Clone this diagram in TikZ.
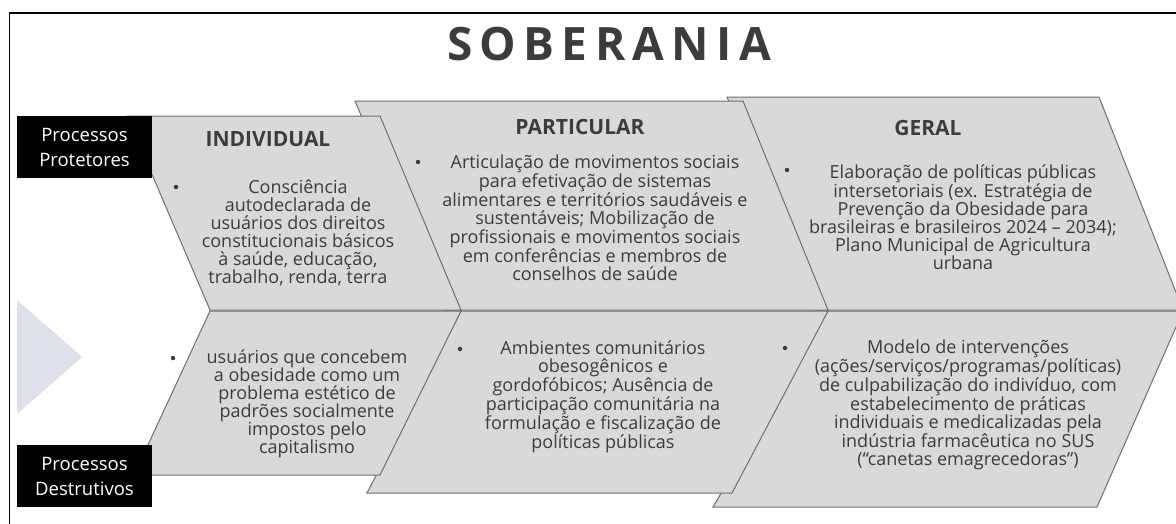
\documentclass[tikz,border=0pt]{standalone}
\usepackage{fontspec}
\setmainfont{Open Sans}
\newfontfamily\titulofont[LetterSpace=16]{Open Sans}
\definecolor{texto}{HTML}{3C3C3C}
\definecolor{caixa}{HTML}{D9D9D9}
\definecolor{borda}{HTML}{6E6E6E}
\definecolor{seta}{HTML}{DEE1EA}
\tikzset{
  bloco/.style={fill=caixa, draw=borda, line width=1pt},
  rotulo/.style={fill=black, text=white, minimum width=135pt, minimum height=62pt, inner sep=0pt, align=center, font=\fontsize{18.5}{25}\selectfont},
  titulo/.style={text=texto, inner sep=0pt, font=\fontsize{21}{24}\selectfont\bfseries},
  corpo/.style={text=texto, inner sep=0pt, align=center, font=\fontsize{18}{18}\selectfont},
  marca/.style={circle, fill=texto, minimum size=4.5pt, inner sep=0pt}
}
\begin{document}
\begin{tikzpicture}[x=1pt, y=-1pt]
\useasboundingbox (0,0) rectangle (1176,523);
\draw[line width=1.5pt] (9.5,530) -- (9.5,13) -- (1185,13);
\node[text=texto, inner sep=0pt, font=\titulofont\fontsize{46}{46}\selectfont\bfseries] (soberania) at (609,44) {SOBERANIA};
\fill[seta] (17,300) -- (82,357) -- (17,414) -- cycle;
\filldraw[bloco] (727,97) -- (1099,97) -- (1183,310) -- (816,310) -- cycle;
\filldraw[bloco] (355,101) -- (743,101) -- (828,310) -- (443,310) -- cycle;
\filldraw[bloco] (127,116) -- (380,116) -- (461,310) -- (210,310) -- cycle;
\filldraw[bloco] (828,311) -- (1183,311) -- (1097,507) -- (713,507) -- cycle;
\filldraw[bloco] (461,311) -- (828,311) -- (732,493) -- (367,493) -- cycle;
\filldraw[bloco] (210,311) -- (461,311) -- (380,475) -- (134,475) -- cycle;
\node[rotulo] (protetores) at (84.5,147) {Processos\\Protetores};
\node[rotulo] (destrutivos) at (84.5,476) {Processos\\Destrutivos};
\node[titulo] (ind) at (268,139) {INDIVIDUAL};
\node[titulo] (par) at (580,127) {PARTICULAR};
\node[titulo] (ger) at (928,128) {GERAL};
\node[marca] (m1) at (176,187) {};
\node[marca] (m2) at (418,162) {};
\node[marca] (m3) at (787,170) {};
\node[marca] (m4) at (173,358) {};
\node[marca] (m5) at (460,349) {};
\node[marca] (m6) at (785,348) {};
\node[corpo] (indA) at (298,233) {Consciência\\autodeclarada de\\usuários dos direitos\\constitucionais básicos\\à saúde, educação,\\trabalho, renda, terra};
\node[corpo] (parA) at (595,218) {Articulação de movimentos sociais\\para efetivação de sistemas\\alimentares e territórios saudáveis e\\sustentáveis; Mobilização de\\profissionais e movimentos sociais\\em conferências e membros de\\conselhos de saúde};
\node[corpo] (gerA) at (963,217) {Elaboração de políticas públicas\\intersetoriais (ex. Estratégia de\\Prevenção da Obesidade para\\brasileiras e brasileiros 2024 – 2034);\\Plano Municipal de Agricultura\\urbana};
\node[corpo] (indB) at (307,404) {usuários que concebem\\a obesidade como um\\problema estético de\\padrões socialmente\\impostos pelo\\capitalismo};
\node[corpo] (parB) at (603,397) {Ambientes comunitários\\obesogênicos e\\gordofóbicos; Ausência de\\participação comunitária na\\formulação e fiscalização de\\políticas públicas};
\node[corpo] (gerB) at (968,405) {Modelo de intervenções\\(ações/serviços/programas/políticas)\\de culpabilização do indivíduo, com\\estabelecimento de práticas\\individuais e medicalizadas pela\\indústria farmacêutica no SUS\\(“canetas emagrecedoras”)};
\end{tikzpicture}
\end{document}
